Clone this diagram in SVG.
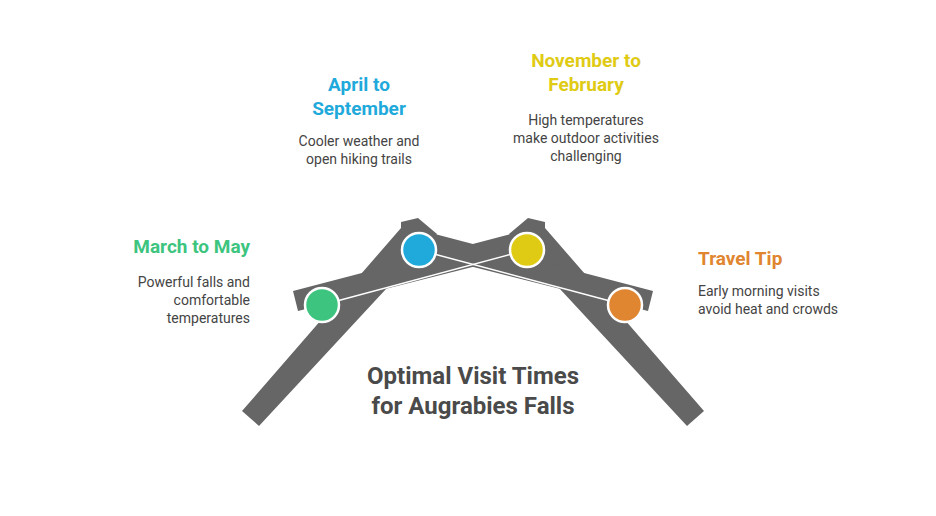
<svg xmlns="http://www.w3.org/2000/svg" width="936" height="516" viewBox="0 0 936 516">
<style>
.bar{fill:#666666}
.t{font-family:Roboto,"Liberation Sans",sans-serif;font-weight:bold;font-size:19px}
.d{font-family:Roboto,"Liberation Sans",sans-serif;font-size:14px;fill:#444444}
.c{stroke:#ffffff;stroke-width:2.5}
</style>
<rect width="936" height="516" fill="#ffffff"/>
<g id="bars">
<polygon class="bar" points="242,411 401,228 401,222 418,218 437,234 259,426"/>
<polygon class="bar" points="704,411 545,228 545,222 528,218 509,234 687,426"/>
<polygon class="bar" points="293,291 515,233 520,255 298,311"/>
<polygon class="bar" points="653,291 431,233 426,255 648,311"/>
</g>
<g id="connectors" stroke="#ffffff" stroke-width="1.5">
<line x1="322" y1="305" x2="527" y2="250"/>
<line x1="419" y1="250" x2="625" y2="305"/>
</g>
<g id="n1"><circle class="c" cx="322" cy="305" r="17" fill="#3dc47e"/>
<text class="t" x="250" y="253" text-anchor="end" fill="#3dc47e">March to May</text>
<text class="d" text-anchor="end"><tspan x="250" y="287">Powerful falls and</tspan><tspan x="250" y="305">comfortable</tspan><tspan x="250" y="323">temperatures</tspan></text></g>
<g id="n2"><circle class="c" cx="419" cy="250" r="17" fill="#1faadb"/>
<text class="t" text-anchor="middle" fill="#1faadb"><tspan x="359" y="91">April to</tspan><tspan x="359" y="115">September</tspan></text>
<text class="d" text-anchor="middle"><tspan x="359" y="146">Cooler weather and</tspan><tspan x="359" y="164">open hiking trails</tspan></text></g>
<g id="n3"><circle class="c" cx="527" cy="250" r="17" fill="#dfcb14"/>
<text class="t" text-anchor="middle" fill="#dfcb14"><tspan x="586" y="67">November to</tspan><tspan x="586" y="91">February</tspan></text>
<text class="d" text-anchor="middle"><tspan x="586" y="125">High temperatures</tspan><tspan x="586" y="143">make outdoor activities</tspan><tspan x="586" y="161">challenging</tspan></text></g>
<g id="n4"><circle class="c" cx="625" cy="305" r="17" fill="#e08530"/>
<text class="t" x="698" y="265" fill="#e08530">Travel Tip</text>
<text class="d"><tspan x="698" y="296">Early morning visits</tspan><tspan x="698" y="314">avoid heat and crowds</tspan></text></g>
<g id="title"><text class="t" text-anchor="middle" fill="#4a4a4a" font-size="24" style="font-size:24px"><tspan x="473" y="384">Optimal Visit Times</tspan><tspan x="473" y="414">for Augrabies Falls</tspan></text></g>
</svg>
